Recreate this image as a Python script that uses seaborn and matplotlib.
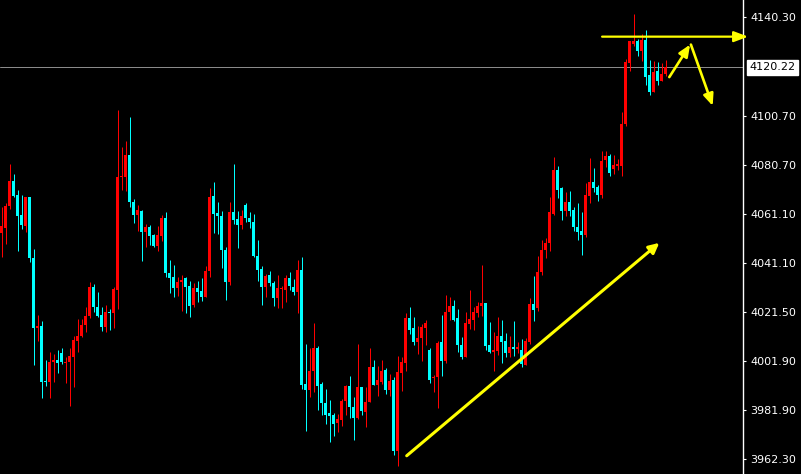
import numpy as np
import pandas as pd
import matplotlib
matplotlib.use("Agg")
import matplotlib.pyplot as plt
import matplotlib.transforms as mtransforms
import seaborn as sns

# ---- candle data (oldest -> newest) ----
opens = [4053.3, 4055.3, 4064.4, 4074.5, 4068.5, 4060.8, 4056.1, 4067.8, 4043.3, 4014.9,
         4016.0, 3993.6, 3993.2, 4001.5, 4002.3, 4004.9, 4000.9, 4001.2, 4003.6, 4010.0,
         4011.7, 4016.4, 4020.1, 4031.5, 4023.7, 4020.3, 4015.6, 4021.7, 4021.0, 4030.5,
         4075.9, 4075.9, 4085.0, 4066.0, 4060.8, 4062.4, 4053.7, 4055.7, 4052.7, 4048.3,
         4052.3, 4059.3, 4037.1, 4035.5, 4031.1, 4033.5, 4035.1, 4032.2, 4024.4, 4031.1,
         4030.1, 4027.7, 4038.2, 4068.1, 4061.5, 4060.4, 4046.7, 4033.5, 4062.0, 4059.1,
         4056.4, 4064.8, 4059.5, 4058.0, 4044.3, 4038.9, 4031.5, 4036.5, 4033.2, 4027.1,
         4030.8, 4030.5, 4035.3, 4031.8, 4029.5, 4038.6, 3992.5, 3990.1, 3997.9, 4007.0,
         3992.5, 3984.8, 3980.8, 3980.1, 3977.0, 3978.1, 3985.5, 3991.8, 3983.3, 3979.0,
         3991.5, 3981.4, 3985.1, 3999.2, 3992.2, 3993.5, 3998.1, 3990.2, 3994.2, 3965.6,
         3996.8, 4000.8, 4019.0, 4014.9, 4009.6, 4011.0, 4015.1, 4006.3, 3994.8, 3995.2,
         4009.3, 4001.9, 4021.4, 4024.1, 4019.0, 4008.4, 4003.5, 4016.7, 4018.4, 4021.0,
         4023.8, 4025.2, 4008.3, 4005.5, 4005.9, 4012.0, 4010.0, 4005.2, 4007.5, 4006.8,
         4006.2, 4000.3, 4009.5, 4024.7, 4023.0, 4037.5, 4046.5, 4049.2, 4061.1, 4078.6,
         4071.4, 4062.4, 4065.8, 4062.8, 4055.9, 4054.1, 4052.7, 4068.2, 4074.1, 4071.8,
         4068.5, 4082.6, 4084.6, 4079.0, 4080.3, 4080.3, 4097.1, 4121.9, 4129.7, 4130.6,
         4126.7, 4131.0, 4116.9, 4110.2, 4118.5, 4114.6, 4117.3]
highs = [4063.8, 4065.4, 4081.0, 4077.0, 4070.8, 4068.5, 4067.8, 4067.8, 4046.9, 4020.5,
         4018.0, 4002.3, 4005.5, 4004.6, 4006.3, 4006.9, 4003.5, 4007.0, 4012.0, 4018.7,
         4018.7, 4023.4, 4033.8, 4032.8, 4029.7, 4023.7, 4024.5, 4022.7, 4031.7, 4102.8,
         4088.2, 4090.3, 4100.3, 4066.9, 4064.8, 4062.7, 4057.0, 4056.4, 4053.0, 4056.0,
         4060.8, 4062.0, 4042.6, 4040.6, 4035.5, 4036.6, 4035.5, 4034.2, 4033.1, 4034.2,
         4035.2, 4040.2, 4071.4, 4074.1, 4065.8, 4062.2, 4047.9, 4066.0, 4081.0, 4062.4,
         4062.8, 4065.5, 4062.0, 4061.1, 4050.7, 4040.2, 4036.9, 4038.2, 4034.2, 4036.5,
         4032.2, 4036.6, 4037.8, 4034.8, 4042.6, 4043.6, 4008.6, 4007.0, 4017.1, 4008.0,
         3993.4, 3990.7, 3986.2, 3980.8, 3980.6, 3986.4, 3992.2, 3995.8, 3987.4, 4008.6,
         3991.5, 3991.5, 4007.0, 4002.3, 3999.9, 4002.3, 3998.9, 3996.5, 3995.2, 4003.9,
         4003.5, 4021.0, 4023.7, 4019.4, 4016.0, 4016.7, 4018.4, 4006.9, 3996.2, 4010.0,
         4020.5, 4028.5, 4027.7, 4026.5, 4022.7, 4011.6, 4021.7, 4030.5, 4023.4, 4025.7,
         4040.6, 4025.2, 4017.6, 4013.6, 4019.6, 4018.4, 4013.1, 4012.0, 4018.0, 4009.5,
         4010.6, 4010.9, 4027.0, 4035.9, 4044.3, 4050.7, 4051.4, 4067.8, 4083.9, 4080.2,
         4071.8, 4069.8, 4070.1, 4064.0, 4065.5, 4061.7, 4073.6, 4083.5, 4079.5, 4072.9,
         4086.6, 4086.6, 4085.3, 4085.0, 4083.0, 4102.1, 4123.3, 4130.6, 4141.5, 4131.7,
         4133.7, 4135.1, 4122.9, 4122.5, 4122.3, 4121.9, 4123.0]
lows = [4043.6, 4049.0, 4063.1, 4067.9, 4046.3, 4054.8, 4053.7, 4041.6, 4000.3, 4010.0,
        3986.7, 3991.8, 3986.7, 3993.4, 3996.8, 4000.6, 3992.8, 3983.5, 3991.5, 4005.5,
        4011.3, 4013.3, 4019.1, 4021.4, 4019.6, 4014.0, 4013.3, 4014.3, 4014.9, 4022.7,
        4070.5, 4070.2, 4064.0, 4057.3, 4054.1, 4042.2, 4047.6, 4048.7, 4047.9, 4046.3,
        4050.3, 4035.5, 4029.1, 4027.7, 4028.1, 4021.8, 4021.0, 4019.4, 4023.4, 4025.4,
        4026.1, 4027.4, 4035.5, 4053.4, 4053.0, 4039.2, 4026.5, 4032.6, 4057.0, 4047.2,
        4054.8, 4057.7, 4055.4, 4043.6, 4033.9, 4024.4, 4027.4, 4031.9, 4024.1, 4023.0,
        4023.0, 4025.4, 4030.5, 4028.5, 4021.0, 3990.5, 3973.6, 3987.1, 3989.1, 3982.1,
        3980.0, 3976.3, 3969.3, 3971.6, 3973.0, 3975.4, 3980.1, 3979.0, 3970.0, 3978.6,
        3980.0, 3975.0, 3985.1, 3992.2, 3987.5, 3992.5, 3988.4, 3987.8, 3963.8, 3959.3,
        3989.8, 3997.6, 4012.7, 4008.2, 4004.6, 4001.9, 4008.2, 3992.8, 3989.4, 3982.7,
        3995.6, 4000.8, 4018.3, 4018.0, 4005.3, 4002.6, 4003.2, 4014.7, 4014.4, 4019.4,
        4019.8, 4006.3, 4005.2, 3997.9, 4004.3, 4000.9, 4003.2, 4003.5, 4003.9, 4005.2,
        3999.5, 4000.3, 4008.6, 4018.0, 4021.8, 4036.5, 4043.2, 4046.0, 4060.7, 4067.4,
        4058.8, 4060.4, 4060.4, 4054.1, 4050.7, 4044.5, 4051.7, 4065.4, 4069.8, 4066.4,
        4067.5, 4079.9, 4076.3, 4077.2, 4078.8, 4076.5, 4096.4, 4118.6, 4128.7, 4124.7,
        4122.7, 4112.9, 4108.8, 4110.2, 4112.9, 4114.5, 4116.6]
closes = [4056.0, 4064.4, 4074.5, 4068.2, 4060.4, 4056.4, 4067.8, 4043.2, 4014.9, 4016.0,
          3993.2, 3993.2, 4001.5, 4002.3, 4000.8, 4001.2, 4001.4, 4003.9, 4010.4, 4012.0,
          4016.4, 4020.1, 4031.5, 4023.4, 4020.0, 4015.6, 4021.7, 4021.0, 4030.8, 4076.1,
          4076.5, 4085.0, 4065.8, 4060.8, 4062.8, 4053.7, 4055.7, 4052.3, 4048.3, 4052.7,
          4059.3, 4037.1, 4035.1, 4031.1, 4033.5, 4034.6, 4031.7, 4024.1, 4031.1, 4029.7,
          4027.7, 4038.2, 4067.8, 4061.1, 4060.1, 4046.7, 4033.5, 4062.0, 4058.8, 4056.4,
          4060.4, 4059.3, 4057.7, 4044.3, 4038.6, 4031.5, 4036.2, 4033.1, 4027.1, 4031.1,
          4031.1, 4035.2, 4031.9, 4029.5, 4038.6, 3992.2, 3990.2, 3997.9, 4007.0, 3991.8,
          3984.7, 3980.1, 3979.7, 3976.6, 3978.6, 3985.7, 3991.8, 3983.1, 3979.0, 3991.5,
          3981.7, 3985.4, 3999.2, 3992.2, 3994.2, 3997.9, 3990.2, 3993.8, 3965.6, 3997.2,
          4001.2, 4019.0, 4014.4, 4009.6, 4011.0, 4015.3, 4017.0, 3994.2, 3995.4, 4008.9,
          4001.9, 4021.7, 4024.1, 4018.4, 4008.4, 4003.5, 4017.0, 4018.7, 4021.4, 4024.1,
          4025.2, 4007.9, 4005.5, 4006.3, 4012.0, 4009.5, 4005.0, 4007.5, 4006.8, 4007.5,
          4000.5, 4010.0, 4024.7, 4022.5, 4037.8, 4046.7, 4049.4, 4061.7, 4078.6, 4070.9,
          4062.4, 4065.8, 4062.4, 4055.7, 4053.7, 4052.7, 4068.5, 4074.1, 4071.4, 4068.5,
          4082.2, 4084.6, 4077.5, 4080.6, 4081.2, 4097.1, 4122.3, 4130.6, 4130.6, 4126.7,
          4131.0, 4116.2, 4110.2, 4118.2, 4114.6, 4117.3, 4120.22]

tick_values = [4140.30, 4100.70, 4080.70, 4061.10, 4041.10, 4021.50, 4001.90, 3981.90, 3962.30]
tick_labels = ["4140.30", "4100.70", "4080.70", "4061.10", "4041.10",
               "4021.50", "4001.90", "3981.90", "3962.30"]
last_price = 4120.22
last_label = "4120.22"

# hand-drawn annotation strokes: (x_start, y_start, x_end, y_end) in bar index / price units
trend_arrow = (101.3, 3963.6, 164.45, 4049.4)
resistance_arrow = (150.15, 4132.5, 186.65, 4132.5)
up_arrow = (166.95, 4116.2, 172.15, 4129.3)
down_arrow = (172.35, 4129.3, 177.8, 4104.6)

# ---- style ----
sns.set_theme(style="dark", rc={"axes.facecolor": "black", "figure.facecolor": "black",
                                "axes.grid": False})
plt.rcParams["font.family"] = ["DejaVu Sans"]

W, H = 801, 474
AX_W = 742.7
fig = plt.figure(figsize=(W / 100, H / 100), dpi=100, facecolor="black")
ax = fig.add_axes([0, 0, AX_W / W, 1])
ax.set_facecolor("black")

df = pd.DataFrame({"open": opens, "high": highs, "low": lows, "close": closes})
df["idx"] = np.arange(len(df))
df["up"] = df["close"] >= df["open"]
df["bottom"] = df[["open", "close"]].min(axis=1)
df["body"] = (df["close"] - df["open"]).abs().clip(lower=0.45)
colors = np.where(df["up"], "#FF0000", "#00FFFF")

ax.vlines(df["idx"], df["low"], df["high"], colors=colors, linewidth=0.72,
          antialiased=True, zorder=2)
ax.bar(df["idx"], df["body"], bottom=df["bottom"], width=0.75, color=colors,
       linewidth=0, antialiased=True, zorder=3)

ax.axhline(last_price, color="#8a8a8a", linewidth=0.72, zorder=1)

x_left = -0.375
ax.set_xlim(x_left, x_left + AX_W / 4.0)
ax.set_ylim(3956.25, 4147.27)

# right price axis
ax.yaxis.tick_right()
ax.set_yticks(tick_values)
ax.set_yticklabels(tick_labels)
ax.tick_params(axis="y", colors="white", labelcolor="white", labelsize=8,
               length=2.5, width=0.8, pad=3, direction="out", right=True, left=False)
ax.tick_params(axis="x", bottom=False, labelbottom=False)
for s in ["top", "left", "bottom"]:
    ax.spines[s].set_visible(False)
ax.spines["right"].set_visible(True)
ax.spines["right"].set_color("white")
ax.spines["right"].set_linewidth(1.0)

trans = mtransforms.blended_transform_factory(ax.transAxes, ax.transData)
ax.annotate(last_label, xy=(1.0, last_price), xycoords=trans,
            xytext=(4.6, 0), textcoords="offset points", ha="left", va="center",
            color="black", fontsize=8, annotation_clip=False,
            bbox=dict(boxstyle="square,pad=0.22", fc="white", ec="white"))

yellow = "#FFFF00"

def draw_arrow(seg, lw, hl, hw):
    x0, y0, x1, y1 = seg
    ax.annotate("", xy=(x1, y1), xytext=(x0, y0), xycoords="data",
                annotation_clip=False,
                arrowprops=dict(arrowstyle=f"-|>,head_length={hl},head_width={hw}",
                                color=yellow, lw=lw, shrinkA=0, shrinkB=0,
                                mutation_scale=10), zorder=5)

draw_arrow(trend_arrow, 2.2, 0.6, 0.3)
draw_arrow(resistance_arrow, 1.6, 0.85, 0.32)
draw_arrow(up_arrow, 1.9, 0.7, 0.3)
draw_arrow(down_arrow, 1.9, 0.7, 0.3)

fig.savefig("out.png", dpi=100, facecolor="black")
